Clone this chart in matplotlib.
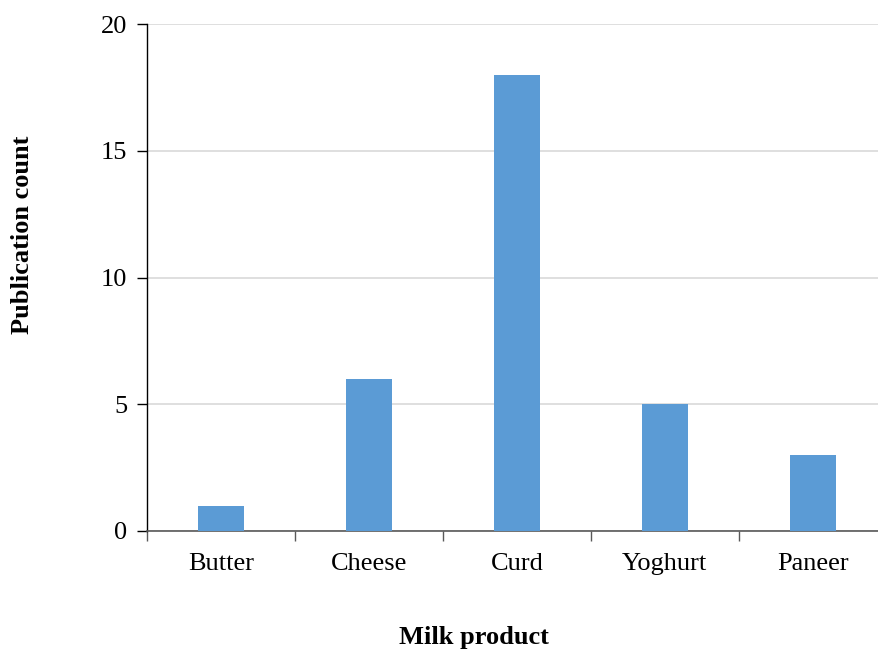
import matplotlib
matplotlib.use("Agg")
import matplotlib.pyplot as plt
import numpy as np

# chart data
products = ["Butter", "Cheese", "Curd", "Yoghurt", "Paneer"]
counts = [1, 6, 18, 5, 3]
yticks = [0, 5, 10, 15, 20]

plt.rcParams['font.family'] = ['Liberation Serif', 'DejaVu Serif']

fig = plt.figure(figsize=(8.79, 6.53), dpi=100)
ax = fig.add_axes([0.167, 0.187, 0.842, 0.776])

x = np.arange(len(products))
ax.bar(x, counts, width=0.31, color='#5b9bd5', zorder=3)

ax.set_xlim(-0.5, len(products) - 0.5)
ax.set_ylim(0, 20)
ax.set_yticks(yticks)
ax.yaxis.grid(True, color='#d9d9d9', linewidth=1.2, zorder=0)

# category labels centred, tick marks at category boundaries
ax.set_xticks(x)
ax.set_xticklabels(products, fontsize=19)
ax.tick_params(axis='x', which='major', length=0, pad=16)
ax.set_xticks(np.arange(len(products) + 1) - 0.5, minor=True)
ax.tick_params(axis='x', which='minor', length=7, width=1, color='#595959', direction='out')
ax.tick_params(axis='y', labelsize=19, length=7, width=1, direction='out', pad=7)

for s in ['top', 'right']:
    ax.spines[s].set_visible(False)
ax.spines['bottom'].set_color('#595959')
ax.spines['bottom'].set_linewidth(1.2)
ax.spines['left'].set_color('black')
ax.spines['left'].set_linewidth(1)

ax.set_xlabel("Milk product", fontsize=19, fontweight='bold')
ax.set_ylabel("Publication count", fontsize=19, fontweight='bold')
ax.xaxis.set_label_coords(0.442, -0.187, transform=ax.transAxes)
ax.yaxis.set_label_coords(-0.153, 0.584, transform=ax.transAxes)

plt.savefig("out.png", dpi=100)
